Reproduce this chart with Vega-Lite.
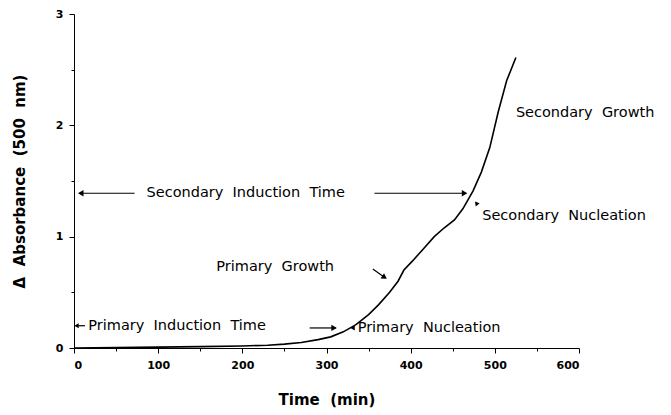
{
  "$schema": "https://vega.github.io/schema/vega-lite/v6.json",
  "width": 505,
  "height": 334,
  "autosize": {"type": "none"},
  "padding": {"left": 74, "top": 14, "right": 92, "bottom": 67},
  "background": "white",
  "config": {
    "view": {"stroke": null},
    "axis": {"grid": false, "domainColor": "black", "tickColor": "black", "labelColor": "black", "titleColor": "black", "labelFont": "DejaVu Sans", "titleFont": "DejaVu Sans", "labelFontWeight": "bold", "titleFontWeight": "bold"}
  },
  "datasets": {
    "curve": [
      {"t": 0, "a": 0}, {"t": 50, "a": 0.004}, {"t": 100, "a": 0.008}, {"t": 150, "a": 0.012},
      {"t": 200, "a": 0.018}, {"t": 230, "a": 0.025}, {"t": 250, "a": 0.035}, {"t": 270, "a": 0.05}, {"t": 290, "a": 0.075}, {"t": 305, "a": 0.1},
      {"t": 320, "a": 0.145}, {"t": 335, "a": 0.21}, {"t": 350, "a": 0.3}, {"t": 362, "a": 0.39}, {"t": 375, "a": 0.5},
      {"t": 385, "a": 0.6}, {"t": 392, "a": 0.7}, {"t": 402, "a": 0.78}, {"t": 415, "a": 0.89}, {"t": 428, "a": 1.0},
      {"t": 440, "a": 1.08}, {"t": 452, "a": 1.15}, {"t": 462, "a": 1.25}, {"t": 474, "a": 1.41},
      {"t": 484, "a": 1.58}, {"t": 494, "a": 1.8}, {"t": 504, "a": 2.12}, {"t": 514, "a": 2.4},
      {"t": 525, "a": 2.61}
    ],
    "arrows": [
      {"x1": 72, "x2": 6, "y1": 1.39, "y2": 1.39},
      {"x1": 357, "x2": 466, "y1": 1.39, "y2": 1.39},
      {"x1": 13, "x2": 3, "y1": 0.2, "y2": 0.2},
      {"x1": 280, "x2": 311, "y1": 0.18, "y2": 0.18},
      {"x1": 355, "x2": 368, "y1": 0.71, "y2": 0.64}
    ],
    "heads": [
      {"x": 464, "y": 1.39, "ang": 90, "s": 40},
      {"x": 309, "y": 0.18, "ang": 90, "s": 40},
      {"x": 8, "y": 1.39, "ang": -90, "s": 40},
      {"x": 3, "y": 0.2, "ang": -90, "s": 25},
      {"x": 331, "y": 0.18, "ang": -90, "s": 25},
      {"x": 369, "y": 0.635, "ang": 124, "s": 40},
      {"x": 478, "y": 1.3, "ang": -40, "s": 25}
    ],
    "labelsL": [
      {"x": 17, "y": 0.2, "text": "Primary \u00a0Induction \u00a0Time"},
      {"x": 337, "y": 0.18, "text": "Primary \u00a0Nucleation"},
      {"x": 485, "y": 1.19, "text": "Secondary \u00a0Nucleation"},
      {"x": 525, "y": 2.11, "text": "Secondary \u00a0Growth"}
    ],
    "labelsC": [
      {"x": 204, "y": 1.39, "text": "Secondary \u00a0Induction \u00a0Time"}
    ],
    "labelsR": [
      {"x": 309, "y": 0.73, "text": "Primary \u00a0Growth"}
    ]
  },
  "layer": [
    {
      "data": {"name": "curve"},
      "mark": {"type": "line", "color": "black", "strokeWidth": 1.6},
      "encoding": {
        "x": {"field": "t", "type": "quantitative", "scale": {"domain": [0, 600], "nice": false},
          "axis": {"title": "Time \u00a0(min)", "titleFontSize": 15, "titlePadding": 22, "labelFontSize": 11, "labelPadding": 6,
            "values": [0, 50, 100, 150, 200, 250, 300, 350, 400, 450, 500, 550, 600],
            "labelExpr": "datum.value % 100 === 0 ? datum.label : ''",
            "tickSize": {"condition": {"test": "datum.value % 100 === 0", "value": 5}, "value": 3}}},
        "y": {"field": "a", "type": "quantitative", "scale": {"domain": [0, 3], "nice": false},
          "axis": {"title": "Δ \u00a0Absorbance \u00a0(500 \u00a0nm)", "titleFontSize": 15, "titlePadding": 28, "labelFontSize": 11, "labelPadding": 6,
            "values": [0, 0.5, 1, 1.5, 2, 2.5, 3],
            "labelExpr": "datum.value % 1 === 0 ? format(datum.value, 'd') : ''",
            "tickSize": {"condition": {"test": "datum.value % 1 === 0", "value": 5}, "value": 3}}}
      }
    },
    {
      "data": {"name": "arrows"},
      "mark": {"type": "rule", "color": "black", "strokeWidth": 1.2},
      "encoding": {
        "x": {"field": "x1", "type": "quantitative"},
        "x2": {"field": "x2"},
        "y": {"field": "y1", "type": "quantitative"},
        "y2": {"field": "y2"}
      }
    },
    {
      "data": {"name": "heads"},
      "mark": {"type": "point", "shape": "triangle-up", "filled": true, "color": "black", "opacity": 1},
      "encoding": {
        "x": {"field": "x", "type": "quantitative"},
        "y": {"field": "y", "type": "quantitative"},
        "angle": {"field": "ang", "type": "quantitative", "scale": null},
        "size": {"field": "s", "type": "quantitative", "scale": null}
      }
    },
    {
      "data": {"name": "labelsL"},
      "mark": {"type": "text", "font": "DejaVu Sans", "fontSize": 14.5, "color": "black", "baseline": "middle", "align": "left"},
      "encoding": {
        "x": {"field": "x", "type": "quantitative"},
        "y": {"field": "y", "type": "quantitative"},
        "text": {"field": "text"}
      }
    },
    {
      "data": {"name": "labelsC"},
      "mark": {"type": "text", "font": "DejaVu Sans", "fontSize": 14.5, "color": "black", "baseline": "middle", "align": "center"},
      "encoding": {
        "x": {"field": "x", "type": "quantitative"},
        "y": {"field": "y", "type": "quantitative"},
        "text": {"field": "text"}
      }
    },
    {
      "data": {"name": "labelsR"},
      "mark": {"type": "text", "font": "DejaVu Sans", "fontSize": 14.5, "color": "black", "baseline": "middle", "align": "right"},
      "encoding": {
        "x": {"field": "x", "type": "quantitative"},
        "y": {"field": "y", "type": "quantitative"},
        "text": {"field": "text"}
      }
    }
  ]
}
